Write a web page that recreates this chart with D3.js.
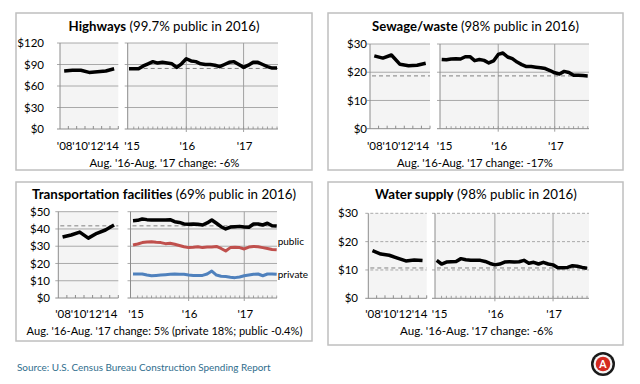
<!DOCTYPE html>
<html><head><meta charset="utf-8">
<script src="https://cdn.jsdelivr.net/npm/d3@7"></script>
<style>body{margin:0;background:#fff;} svg{display:block;font-family:Lato,"Open Sans",sans-serif;}</style>
</head><body><svg id="c" width="640" height="384"></svg>
<script>
// ---------- data ----------
const years = [2008, 2009, 2010, 2011, 2012, 2013, 2014];
const yearLabels = ["'08", "'10", "'12", "'14"];
const yearLabelYears = [2008, 2010, 2012, 2014];
const monthLabels = ["'15", "'16", "'17"];

const highwaysAnnual = [81, 82, 82, 79, 80, 81, 84];
const highwaysMonthly = [84, 84, 84, 88, 91, 94, 92, 93, 92, 91, 86, 91, 98, 95, 94, 91, 90, 90, 89, 87, 90, 93, 94, 90, 86, 89, 93, 93, 90, 87, 85, 85];
const highwaysRef = 84.5;

const sewageAnnual = [25.8, 25.0, 26.1, 22.8, 22.3, 22.5, 23.2];
const sewageMonthly = [24.5, 24.4, 24.7, 24.8, 24.7, 25.5, 25.5, 24.1, 24.5, 24.2, 23.3, 24.0, 26.3, 26.8, 25.4, 24.8, 23.6, 22.7, 22.0, 22.0, 21.8, 21.6, 21.3, 20.6, 19.8, 19.4, 20.3, 19.9, 18.9, 18.9, 18.8, 18.7];
const sewageRef = 18.7;

const transportAnnual = [35.3, 36.5, 38.2, 34.7, 37.5, 39.4, 42.3];
const transportTotal = [44.8, 45.0, 45.8, 45.4, 45.2, 45.2, 45.2, 45.2, 45.4, 44.2, 43.8, 42.9, 42.7, 42.9, 42.7, 42.3, 43.5, 45.2, 43.3, 41.3, 40.0, 41.1, 41.3, 41.5, 41.1, 41.0, 42.9, 42.9, 42.3, 43.3, 41.9, 41.7];
const transportPublic = [30.7, 31.3, 32.1, 32.5, 32.6, 32.3, 32.1, 31.5, 31.7, 31.1, 30.4, 29.7, 29.2, 29.4, 29.7, 29.2, 29.5, 29.5, 29.9, 28.7, 27.2, 29.2, 29.4, 29.2, 28.4, 29.5, 29.9, 29.7, 29.2, 28.7, 28.1, 27.9];
const transportPrivate = [13.9, 13.9, 13.9, 13.3, 12.9, 13.1, 13.3, 13.5, 13.7, 13.9, 13.7, 13.7, 13.3, 13.1, 13.1, 13.1, 13.9, 15.6, 13.3, 12.6, 12.4, 12.0, 11.8, 12.2, 12.9, 13.3, 13.7, 13.9, 12.9, 13.9, 13.9, 13.7];
const transportRef = 41.8;

const waterAnnual = [16.8, 15.6, 15.2, 14.2, 13.2, 13.5, 13.3];
const waterMonthly = [13.4, 12.1, 12.8, 12.9, 13.0, 14.0, 13.6, 13.4, 13.4, 13.4, 13.0, 12.3, 11.8, 12.1, 12.8, 12.9, 12.8, 12.9, 13.4, 12.4, 12.7, 12.1, 12.7, 12.1, 11.8, 10.8, 10.8, 10.9, 11.5, 11.3, 10.9, 10.6];
const waterRef = 10.7;

const ticks120 = [0, 30, 60, 90, 120];
const ticks30 = [0, 10, 20, 30];
const ticks50 = [0, 10, 20, 30, 40, 50];

// ---------- drawing ----------
const svg = d3.select("#c");
const months = d3.timeMonth.range(new Date(2015, 0, 1), new Date(2017, 8, 1)); // Jan'15..Aug'17
const gridMonths = [months[0], months[12], months[24]];

function fit(sel, w) {
  const L = sel.node().getComputedTextLength();
  const fs = parseFloat(sel.attr("font-size"));
  sel.attr("font-size", (fs * w / L).toFixed(2));
}

function panel(c) {
  const g = svg.append("g");
  g.append("rect").attr("x", c.box[0]).attr("y", c.box[1])
    .attr("width", c.box[2] - c.box[0]).attr("height", c.box[3] - c.box[1])
    .attr("fill", "none").attr("stroke", "#bfbfbf").attr("stroke-width", 1.5);

  const y = d3.scaleLinear().domain([0, c.yMax]).range([c.yBottom, c.yTop]);
  const xb = d3.scaleBand().domain(years).range(c.seg1);
  const x1 = d => xb(d) + xb.bandwidth() / 2;
  const x2 = d3.scalePoint().domain(months).range(c.pts);

  [c.seg1, c.seg2].forEach(s => {
    g.append("rect").attr("x", s[0]).attr("y", c.yTop).attr("width", s[1] - s[0])
      .attr("height", c.yBottom - c.yTop).attr("fill", "#f4f4f4");
    g.selectAll(null).data(c.ticks.filter(v => v > 0)).join("line")
      .attr("x1", s[0] - 3).attr("x2", s[1]).attr("y1", d => y(d)).attr("y2", d => y(d))
      .attr("stroke", "#a0a0a0").attr("stroke-width", 0.9)
      .attr("stroke-dasharray", c.dashedGrid ? "3,2" : null);
    g.append("line").attr("x1", s[0]).attr("x2", s[0]).attr("y1", c.yTop).attr("y2", c.yBottom)
      .attr("stroke", "#8c8c8c").attr("stroke-width", 1);
    g.append("line").attr("x1", s[0] - 3).attr("x2", s[1]).attr("y1", c.yBottom).attr("y2", c.yBottom)
      .attr("stroke", "#8c8c8c").attr("stroke-width", 1);
  });
  // vertical gridlines at Jan '16 and Jan '17
  g.selectAll(null).data(gridMonths.slice(1)).join("line")
    .attr("x1", d => x2(d)).attr("x2", d => x2(d)).attr("y1", c.yTop).attr("y2", c.yBottom + 3)
    .attr("stroke", "#a0a0a0").attr("stroke-width", 1);
  // minor ticks
  g.selectAll(null).data(years).join("line")
    .attr("x1", d => xb(d) + xb.bandwidth()).attr("x2", d => xb(d) + xb.bandwidth())
    .attr("y1", c.yBottom).attr("y2", c.yBottom - 3).attr("stroke", "#8c8c8c");
  g.selectAll(null).data(months.slice(1)).join("line")
    .attr("x1", d => x2(d)).attr("x2", d => x2(d))
    .attr("y1", c.yBottom).attr("y2", c.yBottom - 2.5).attr("stroke", "#8c8c8c").attr("stroke-width", 0.8);

  // reference dashed line
  const refSegs = c.refSeg1 ? [c.seg1, c.seg2] : [c.seg2];
  g.selectAll(null).data(refSegs).join("line")
    .attr("x1", s => s[0] + 2).attr("x2", s => s[1]).attr("y1", y(c.ref)).attr("y2", y(c.ref))
    .attr("stroke", "#808080").attr("stroke-width", 1).attr("stroke-dasharray", "4,3");

  // series
  c.series.forEach(s => {
    if (s.annual) {
      g.append("path").datum(s.annual)
        .attr("d", d3.line().x((d, i) => x1(years[i])).y(d => y(d)))
        .attr("fill", "none").attr("stroke", s.color).attr("stroke-width", s.w)
        .attr("stroke-linejoin", "round");
    }
    g.append("path").datum(s.monthly)
      .attr("d", d3.line().x((d, i) => x2(months[i])).y(d => y(d)))
      .attr("fill", "none").attr("stroke", s.color).attr("stroke-width", s.w)
      .attr("stroke-linejoin", "round");
    if (s.label) {
      g.append("text").attr("x", x2(months[months.length - 1]) + 1)
        .attr("y", y(s.monthly[s.monthly.length - 1]) + s.labelDy)
        .attr("font-size", 10).attr("fill", "#000").text(s.label);
    }
  });

  // y axis labels
  const ya = g.append("g").attr("transform", `translate(${c.yLabelRight},0)`)
    .call(d3.axisLeft(y).tickValues(c.ticks).tickFormat(d => "$" + d).tickSize(0).tickPadding(0));
  ya.select(".domain").remove();
  ya.selectAll("text").attr("font-size", 11.5).attr("font-family", "Lato").attr("fill", "#000");

  // x labels
  const lx = d3.scaleLinear().domain([2008, 2014]).range([x1(2008) + 0.5, x1(2008) + 47]);
  g.selectAll(null).data(yearLabelYears).join("text")
    .attr("x", d => lx(d)).attr("y", c.xLabelY).attr("text-anchor", "middle")
    .attr("font-size", 11.5).text((d, i) => yearLabels[i]);
  g.selectAll(null).data(gridMonths).join("text")
    .attr("x", (d, i) => x2(d) + (i === 0 ? 3 : 1)).attr("y", c.xLabelY).attr("text-anchor", "middle")
    .attr("font-size", 11.5).text((d, i) => monthLabels[i]);

  // title
  const t = g.append("text").attr("x", c.titleX).attr("y", c.titleY).attr("text-anchor", "middle")
    .attr("font-size", 14).attr("fill", "#000");
  t.append("tspan").attr("font-weight", "bold").text(c.titleBold);
  t.append("tspan").text(c.titleRest);
  fit(t, c.titleW);

  const ch = g.append("text").attr("x", c.changeX).attr("y", c.changeY).attr("text-anchor", "middle")
    .attr("font-size", 12).attr("fill", "#000").text(c.change);
  fit(ch, c.changeW);
}

panel({
  box: [16, 13, 312, 170], yMax: 120, ticks: ticks120, yTop: 43, yBottom: 129,
  seg1: [60, 118.3], seg2: [127.7, 278], pts: [129, 277], yLabelRight: 44, xLabelY: 150,
  ref: highwaysRef, refSeg1: false, dashedGrid: false,
  series: [{annual: highwaysAnnual, monthly: highwaysMonthly, color: "#000", w: 3.5}],
  titleBold: "Highways", titleRest: " (99.7% public in 2016)", titleX: 164, titleY: 31, titleW: 191,
  change: "Aug. '16-Aug. '17 change: -6%", changeX: 164.5, changeY: 167, changeW: 150
});
panel({
  box: [328, 13, 623, 170], yMax: 30, ticks: ticks30, yTop: 44, yBottom: 128.7,
  seg1: [370, 430], seg2: [440, 589], pts: [441.7, 587.7], yLabelRight: 367, xLabelY: 150,
  ref: sewageRef, refSeg1: true, dashedGrid: false,
  series: [{annual: sewageAnnual, monthly: sewageMonthly, color: "#000", w: 3.5}],
  titleBold: "Sewage/waste", titleRest: " (98% public in 2016)", titleX: 475.5, titleY: 31, titleW: 207,
  change: "Aug. '16-Aug. '17 change: -17%", changeX: 475, changeY: 167, changeW: 156
});
panel({
  box: [16, 182, 312, 341], yMax: 50, ticks: ticks50, yTop: 211.7, yBottom: 298,
  seg1: [58.3, 118.3], seg2: [130.5, 277], pts: [133, 276.7], yLabelRight: 50, xLabelY: 318,
  ref: transportRef, refSeg1: true, dashedGrid: false,
  series: [
    {annual: transportAnnual, monthly: transportTotal, color: "#000", w: 3.5},
    {monthly: transportPublic, color: "#c0504d", w: 3, label: "public", labelDy: -5},
    {monthly: transportPrivate, color: "#4f81bd", w: 3, label: "private", labelDy: 3.5}
  ],
  titleBold: "Transportation facilities", titleRest: " (69% public in 2016)", titleX: 164, titleY: 199, titleW: 264,
  change: "Aug. '16-Aug. '17 change: 5% (private 18%; public -0.4%)", changeX: 164.5, changeY: 335, changeW: 276
});
panel({
  box: [328, 182, 623, 345], yMax: 30, ticks: ticks30, yTop: 213.3, yBottom: 298.3,
  seg1: [368.3, 426.7], seg2: [435, 589], pts: [436.7, 587], yLabelRight: 358, xLabelY: 318,
  ref: waterRef, refSeg1: true, dashedGrid: true,
  series: [{annual: waterAnnual, monthly: waterMonthly, color: "#000", w: 3.5}],
  titleBold: "Water supply", titleRest: " (98% public in 2016)", titleX: 476, titleY: 199, titleW: 202,
  change: "Aug. '16-Aug. '17 change: -6%", changeX: 476.5, changeY: 335, changeW: 153
});

// source
const src = svg.append("text").attr("x", 17).attr("y", 371).attr("font-size", 10)
  .attr("fill", "#2f6e8d").text("Source: U.S. Census Bureau Construction Spending Report");
fit(src, 254);

// logo
const logo = svg.append("g").attr("transform", "translate(603,364)");
logo.append("circle").attr("r", 12).attr("fill", "#1a1a1a");
logo.append("circle").attr("r", 9.5).attr("fill", "#f4f4f4");
logo.append("circle").attr("r", 7.3).attr("fill", "#d42a20");
logo.append("text").attr("y", 3.7).attr("text-anchor", "middle").attr("font-size", 10.5)
  .attr("font-weight", "bold").attr("fill", "#fff").text("A");
</script></body></html>
